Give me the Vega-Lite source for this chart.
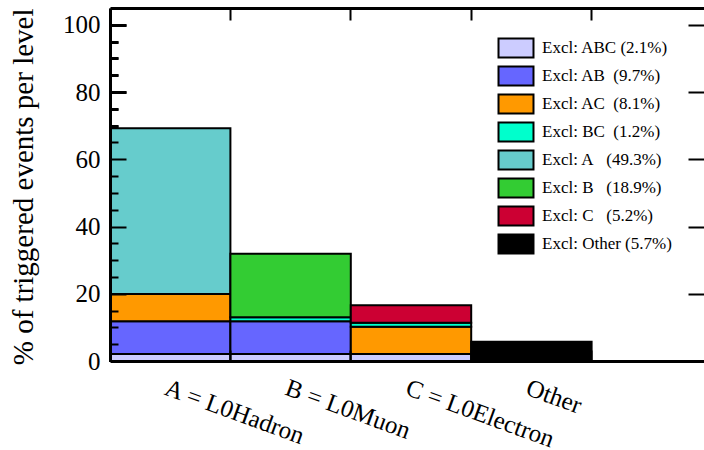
{
  "$schema": "https://vega.github.io/schema/vega-lite/v6.json",
  "width": 594,
  "height": 353,
  "autosize": {"type": "none"},
  "padding": {"left": 110, "top": 8, "right": 0, "bottom": 89},
  "background": "white",
  "config": {
    "view": {"stroke": null},
    "font": "Liberation Serif",
    "axis": {"domainColor": "black", "tickColor": "black", "labelColor": "black", "titleColor": "black", "grid": false}
  },
  "data": {
    "values": [
      {"level": "A = L0Hadron", "group": "Excl: ABC (2.1%)", "ord": 1, "pct": 2.1},
      {"level": "A = L0Hadron", "group": "Excl: AB\u00a0\u00a0(9.7%)", "ord": 2, "pct": 9.7},
      {"level": "A = L0Hadron", "group": "Excl: AC\u00a0\u00a0(8.1%)", "ord": 3, "pct": 8.1},
      {"level": "A = L0Hadron", "group": "Excl: A\u00a0\u00a0\u00a0(49.3%)", "ord": 5, "pct": 49.3},
      {"level": "B = L0Muon", "group": "Excl: ABC (2.1%)", "ord": 1, "pct": 2.1},
      {"level": "B = L0Muon", "group": "Excl: AB\u00a0\u00a0(9.7%)", "ord": 2, "pct": 9.7},
      {"level": "B = L0Muon", "group": "Excl: BC\u00a0\u00a0(1.2%)", "ord": 4, "pct": 1.2},
      {"level": "B = L0Muon", "group": "Excl: B\u00a0\u00a0\u00a0(18.9%)", "ord": 6, "pct": 18.9},
      {"level": "C = L0Electron", "group": "Excl: ABC (2.1%)", "ord": 1, "pct": 2.1},
      {"level": "C = L0Electron", "group": "Excl: AC\u00a0\u00a0(8.1%)", "ord": 3, "pct": 8.1},
      {"level": "C = L0Electron", "group": "Excl: BC\u00a0\u00a0(1.2%)", "ord": 4, "pct": 1.2},
      {"level": "C = L0Electron", "group": "Excl: C\u00a0\u00a0\u00a0(5.2%)", "ord": 7, "pct": 5.2},
      {"level": "Other", "group": "Excl: Other (5.7%)", "ord": 8, "pct": 5.7}
    ]
  },
  "layer": [
    {
      "mark": {"type": "bar", "stroke": "black", "strokeWidth": 2},
      "encoding": {
        "x": {
          "field": "level",
          "type": "nominal",
          "scale": {"domain": ["A = L0Hadron", "B = L0Muon", "C = L0Electron", "Other", " "], "range": [0, 602], "paddingInner": 0, "paddingOuter": 0},
          "axis": {
            "orient": "bottom",
            "zindex": 1,
            "title": null,
            "bandPosition": 0,
            "domainWidth": 3,
            "tickSize": -11,
            "tickWidth": 2,
            "labelAngle": 20,
            "labelAlign": "left",
            "labelBaseline": "top",
            "labelOffset": 0,
            "labelPadding": 25,
            "labelFontSize": 25,
            "labelFont": "Liberation Serif",
            "labelOverlap": false,
            "labelBound": false,
            "labelFlush": false,
            "labelLimit": 400
          }
        },
        "y": {
          "field": "pct",
          "type": "quantitative",
          "stack": "zero",
          "scale": {"domain": [0, 105], "nice": false},
          "axis": {
            "orient": "left",
            "zindex": 1,
            "title": "% of triggered events per level",
            "titleFont": "Liberation Serif",
            "titleFontSize": 29,
            "titleFontWeight": "normal",
            "titleAnchor": "end",
            "titleX": -87,
            "titleBaseline": "middle",
            "values": [0, 20, 40, 60, 80, 100],
            "ticks": false,
            "domainWidth": 3,
            "labelFont": "Liberation Serif",
            "labelFontSize": 25,
            "labelPadding": 10
          }
        },
        "color": {
          "field": "group",
          "type": "nominal",
          "scale": {
            "domain": ["Excl: ABC (2.1%)", "Excl: AB\u00a0\u00a0(9.7%)", "Excl: AC\u00a0\u00a0(8.1%)", "Excl: BC\u00a0\u00a0(1.2%)", "Excl: A\u00a0\u00a0\u00a0(49.3%)", "Excl: B\u00a0\u00a0\u00a0(18.9%)", "Excl: C\u00a0\u00a0\u00a0(5.2%)", "Excl: Other (5.7%)"],
            "range": ["#CCCCFF", "#6666FF", "#FF9900", "#00FFCC", "#66CCCC", "#33CC33", "#CC0033", "#000000"]
          },
          "legend": {
            "orient": "none",
            "legendX": 393,
            "legendY": 27,
            "title": null,
            "labelFont": "Liberation Serif",
            "labelFontSize": 17,
            "labelColor": "black",
            "labelLimit": 300,
            "labelOffset": 13,
            "symbolType": "M-1.5,-0.81H1.5V0.81H-1.5Z",
            "symbolSize": 544,
            "symbolStrokeColor": "black",
            "symbolStrokeWidth": 2,
            "symbolOpacity": 1,
            "rowPadding": 0
          }
        },
        "order": {"field": "ord", "type": "quantitative"}
      }
    },
    {
      "mark": {"type": "point", "opacity": 0},
      "encoding": {
        "x": {
          "field": "level",
          "type": "nominal",
          "axis": {"orient": "top", "zindex": 1, "title": null, "bandPosition": 0, "domainWidth": 3, "tickSize": -12, "tickWidth": 2, "labels": false}
        },
        "y": {
          "field": "pct",
          "type": "quantitative",
          "axis": {"orient": "right", "zindex": 1, "title": null, "domain": false, "labels": false, "values": [0, 20, 40, 60, 80, 100], "tickSize": -16, "tickWidth": 2}
        }
      }
    },
    {
      "mark": {"type": "point", "opacity": 0},
      "encoding": {
        "x": {"field": "level", "type": "nominal", "axis": null},
        "y": {
          "field": "pct",
          "type": "quantitative",
          "axis": {"orient": "left", "title": null, "domain": false, "labels": false, "values": [20, 40, 60, 80, 100], "tickSize": -16, "tickWidth": 3, "tickColor": "#000000"}
        }
      }
    },
    {
      "mark": {"type": "point", "opacity": 0},
      "encoding": {
        "x": {"field": "level", "type": "nominal", "axis": null},
        "y": {
          "field": "pct",
          "type": "quantitative",
          "axis": {"orient": "left", "title": null, "domain": false, "labels": false, "values": [5, 10, 15, 25, 30, 35, 45, 50, 55, 65, 70, 75, 85, 90, 95], "tickSize": -8, "tickWidth": 3, "tickColor": "#000000"}
        }
      }
    },
    {
      "mark": {"type": "point", "opacity": 0},
      "encoding": {
        "x": {"field": "level", "type": "nominal", "axis": null},
        "y": {
          "field": "pct",
          "type": "quantitative",
          "axis": {"orient": "right", "offset": -594, "zindex": 1, "title": null, "domain": false, "labels": false, "values": [20, 40, 60, 80, 100], "tickSize": 16, "tickWidth": 2, "tickColor": "#000000"}
        }
      }
    },
    {
      "mark": {"type": "point", "opacity": 0},
      "encoding": {
        "x": {"field": "level", "type": "nominal", "axis": null},
        "y": {
          "field": "pct",
          "type": "quantitative",
          "axis": {"orient": "right", "offset": -594, "zindex": 1, "title": null, "domain": false, "labels": false, "values": [5, 10, 15, 25, 30, 35, 45, 50, 55, 65, 70, 75, 85, 90, 95], "tickSize": 8, "tickWidth": 2, "tickColor": "#000000"}
        }
      }
    }
  ],
  "resolve": {"axis": {"x": "independent", "y": "independent"}}
}
